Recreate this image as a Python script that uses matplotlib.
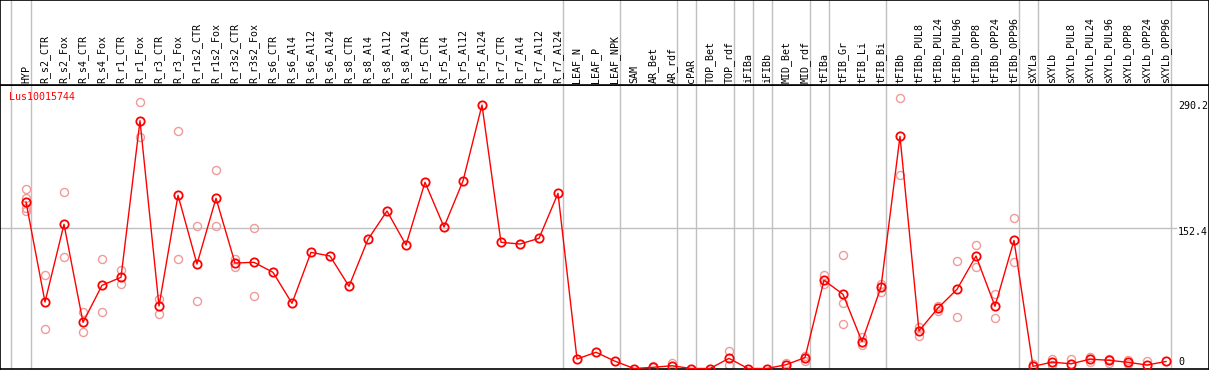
import matplotlib
matplotlib.use("Agg")
import matplotlib.pyplot as plt

title = "Lus10015744"

samples = ["HYP", "R_s2_CTR", "R_s2_Fox", "R_s4_CTR", "R_s4_Fox", "R_r1_CTR", "R_r1_Fox",
           "R_r3_CTR", "R_r3_Fox", "R_r1s2_CTR", "R_r1s2_Fox", "R_r3s2_CTR", "R_r3s2_Fox",
           "R_s6_CTR", "R_s6_Al4", "R_s6_Al12", "R_s6_Al24", "R_s8_CTR", "R_s8_Al4",
           "R_s8_Al12", "R_s8_Al24", "R_r5_CTR", "R_r5_Al4", "R_r5_Al12", "R_r5_Al24",
           "R_r7_CTR", "R_r7_Al4", "R_r7_Al12", "R_r7_Al24", "LEAF_N", "LEAF_P", "LEAF_NPK",
           "SAM", "AR_Bet", "AR_rdf", "cPAR", "TOP_Bet", "TOP_rdf", "iFIBa", "iFIBb",
           "MID_Bet", "MID_rdf", "tFIBa", "tFIB_Gr", "tFIB_Li", "tFIB_Bi", "tFIBb",
           "tFIBb_PUL8", "tFIBb_PUL24", "tFIBb_PUL96", "tFIBb_OPP8", "tFIBb_OPP24",
           "tFIBb_OPP96", "sXYLa", "sXYLb", "sXYLb_PUL8", "sXYLb_PUL24", "sXYLb_PUL96",
           "sXYLb_OPP8", "sXYLb_OPP24", "sXYLb_OPP96"]

means = [180.6, 72.1, 156.4, 50.1, 90.2, 98.9, 268.8, 67.8, 187.9, 113.3, 184.6, 114.4, 115.2,
         104.3, 70.7, 126.0, 122.0, 89.2, 140.1, 170.8, 133.9, 202.0, 153.5, 203.4, 285.8,
         136.9, 135.0, 141.2, 190.0, 10.3, 17.6, 7.9, 0.0, 1.3, 3.0, 0.0, 0.0, 11.0, 0.0, 0.0,
         4.1, 11.8, 95.7, 80.5, 29.1, 88.4, 251.8, 40.7, 65.6, 85.9, 122.0, 67.5, 139.0,
         2.3, 6.9, 5.1, 10.1, 8.9, 6.7, 3.8, 7.6]

replicates = [[194.4, 184.6, 174.4, 170.8], [101.4, 42.5], [191.1, 120.9], [61.0, 39.3],
              [118.4, 61.0], [106.8, 91.3], [288.7, 250.8], [75.4, 58.8], [257.6, 118.4],
              [154.2, 72.9], [215.3, 154.2], [118.8, 109.8], [152.1, 78.3],
              [], [], [], [], [], [], [], [], [], [], [], [], [], [], [], [],
              [], [], [], [], [2.7], [6.5], [], [], [19.0, 3.6], [], [],
              [5.6], [14.0, 8.5], [101.4, 91.6], [122.8, 71.4, 47.9], [34.5, 25.5],
              [91.6, 83.0], [293.0, 209.5], [44.7, 35.6], [67.8, 62.7], [116.3, 55.5],
              [133.6, 110.1], [80.5, 54.8], [162.9, 115.5],
              [5.0], [10.6, 3.3], [10.6], [12.8, 7.3], [10.8, 6.5], [9.2, 4.5], [7.8], []]

# group separators sit just right of these columns
separators = [-1.05, 0, 28, 31, 34, 35, 37, 38, 39, 41, 42, 45, 52, 53, 60]

ref_line = 152.4
right_labels = ["290.2", "152.4", "0"]
right_label_y = [285.0, 148.0, 7.0]

red = "#ff0000"
pink = "#f09a9a"
grid = "#c0c0c0"
font = "DejaVu Sans Mono"
fs = 7.2

W, H = 1209, 370
fig = plt.figure(figsize=(W / 100, H / 100), dpi=100)

x0, dx = 26, 19
xlim = (-x0 / dx, (W - x0) / dx)

ax = fig.add_axes([0, 1 / H, 1, 284 / H])
hd = fig.add_axes([0, 285 / H, 1, 85 / H - 0.0001])

for a in (ax, hd):
    a.set_xlim(*xlim)
    a.set_xticks([])
    a.set_yticks([])
    for s in a.spines.values():
        s.set_color("black")
        s.set_linewidth(1.2)
    for sep in separators:
        a.axvline(sep + 0.25, color=grid, lw=1, zorder=0)

ax.set_ylim(-0.54, 307.5)
hd.set_ylim(0, 1)

ax.plot([xlim[0], 60.5], [ref_line, ref_line], color=grid, lw=1, zorder=0)

xs = list(range(len(samples)))
for i, reps in enumerate(replicates):
    if reps:
        ax.plot([i] * len(reps), reps, linestyle="none", marker="o", ms=5.8,
                mfc="none", mec=pink, mew=1.0, zorder=2, clip_on=False)

ax.plot(xs, means, color=red, lw=1, marker="o", ms=6, mfc="none", mec=red,
        mew=1.3, zorder=3, clip_on=False)

for i, name in enumerate(samples):
    hd.text(i, 2 / 85, name, rotation=90, ha="center", va="bottom",
            fontsize=fs, family=font, color="black")

ax.text(-0.89, 294.8, title, color=red, fontsize=fs, family=font, ha="left", va="center")

for lab, yv in zip(right_labels, right_label_y):
    ax.text(60.63, yv, lab, fontsize=fs, family=font, ha="left", va="center",
            color="black", clip_on=True)

fig.savefig("out.png", dpi=100)
